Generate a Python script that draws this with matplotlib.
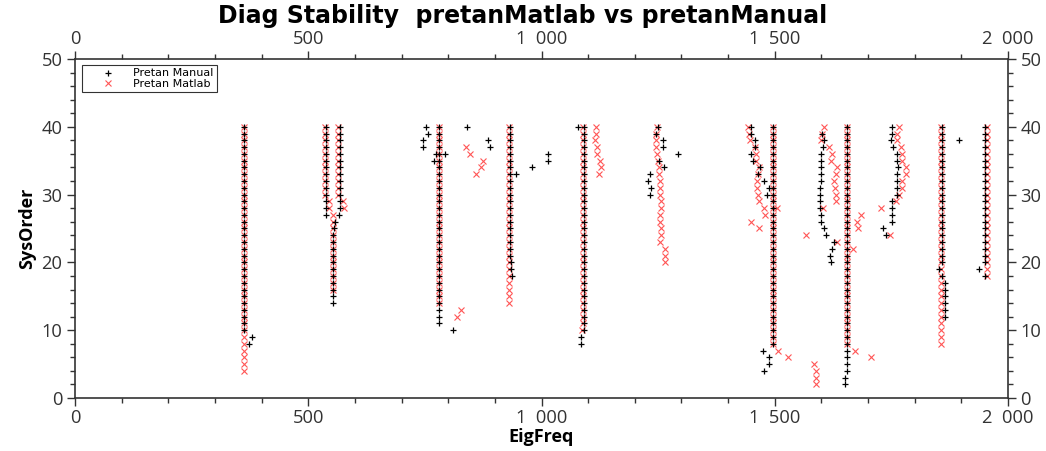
import matplotlib
matplotlib.use("Agg")
import matplotlib.pyplot as plt
from matplotlib.ticker import MultipleLocator, FuncFormatter

plt.rcParams['font.family'] = ['Open Sans', 'DejaVu Sans']

# ---------------- data ----------------
# vertical stable runs: (frequency, lowest order, highest order)
manual_runs = [(362, 10, 40), (539, 27, 40), (567, 30, 40), (553, 14, 24),
               (781, 11, 40), (932, 21, 40), (1091, 10, 40), (1497, 8, 40),
               (1654, 4, 40), (1858, 20, 40), (1951, 20, 40)]
matlab_runs = [(362, 4, 40), (535, 30, 40), (564, 30, 40), (553, 16, 24),
               (781, 14, 40), (931, 14, 40), (1090, 11, 40), (1496, 8, 40),
               (1654, 8, 40), (1857, 8, 40), (1954, 18, 40)]

# isolated poles
manual_f = [379, 372,
            569, 569, 566, 558, 556,
            840, 752, 756, 747, 885, 747, 890, 793, 774, 770, 810,
            935, 935, 937, 979, 945, 1014, 1014,
            1079, 1085, 1085,
            1249, 1245, 1261, 1261, 1293, 1252, 1262, 1233, 1228, 1235, 1233,
            1449, 1450, 1457, 1457, 1450, 1454, 1468, 1465, 1478, 1488, 1483,
            1474, 1487, 1487, 1478,
            1602, 1606, 1604, 1599, 1599, 1599, 1599, 1599, 1598, 1598, 1596, 1596,
            1599, 1599, 1606, 1609, 1626, 1623, 1618, 1620, 1650, 1650,
            1752, 1752, 1749, 1754, 1761, 1761, 1765, 1761, 1761, 1763, 1761, 1752,
            1752, 1752, 1751, 1731, 1738,
            1853, 1858, 1865, 1865, 1865, 1865, 1865, 1865, 1896,
            1937, 1950]
manual_o = [9, 8,
            29, 28, 27, 26, 25,
            40, 40, 39, 38, 38, 37, 37, 36, 36, 35, 10,
            20, 19, 18, 34, 33, 36, 35,
            40, 9, 8,
            40, 39, 38, 37, 36, 35, 34, 33, 32, 31, 30,
            40, 39, 38, 37, 36, 35, 34, 33, 32, 31, 30,
            7, 6, 5, 4,
            39, 38, 37, 36, 35, 34, 33, 32, 31, 30, 29, 28,
            27, 26, 25, 24, 23, 22, 21, 20, 3, 2,
            40, 39, 38, 37, 36, 35, 34, 33, 32, 31, 30, 29,
            28, 27, 26, 25, 24,
            19, 18, 17, 16, 15, 14, 13, 12, 38,
            19, 18]

matlab_f = [545, 545, 575, 577, 554, 552, 552,
            839, 847, 874, 870, 860, 827, 818,
            1086, 1117, 1116, 1114, 1120, 1118, 1125, 1127, 1124,
            1247, 1245, 1245, 1246, 1248, 1250, 1252, 1252, 1254, 1254, 1254, 1256,
            1257, 1255, 1255, 1257, 1256, 1253, 1265, 1265, 1265,
            1442, 1445, 1447, 1457, 1460, 1460, 1466, 1465, 1461, 1461, 1465, 1466,
            1478, 1480, 1449, 1467, 1504, 1506, 1529, 1584, 1588, 1588, 1588,
            1606, 1602, 1600, 1616, 1623, 1621, 1633, 1631, 1628, 1629, 1631, 1631,
            1603, 1566, 1633, 1684, 1676, 1679, 1668, 1672, 1706,
            1766, 1763, 1763, 1771, 1772, 1773, 1781, 1781, 1773, 1772, 1766, 1760,
            1727, 1747]
matlab_o = [29, 28, 29, 28, 27, 26, 25,
            37, 36, 35, 34, 33, 13, 12,
            10, 40, 39, 38, 37, 36, 35, 34, 33,
            40, 39, 38, 37, 36, 35, 34, 33, 32, 31, 30, 29,
            28, 27, 26, 25, 24, 23, 22, 21, 20,
            40, 39, 38, 37, 36, 35, 34, 33, 32, 31, 30, 29,
            28, 27, 26, 25, 28, 7, 6, 5, 4, 3, 2,
            40, 39, 38, 37, 36, 35, 34, 33, 32, 31, 30, 29,
            28, 24, 23, 27, 26, 25, 22, 7, 6,
            40, 39, 38, 37, 36, 35, 34, 33, 32, 31, 30, 29,
            28, 24]

title = "Diag Stability  pretanMatlab vs pretanManual"
x_label = "EigFreq"
y_label = "SysOrder"
legend_labels = ["Pretan Manual", "Pretan Matlab"]


def expand(runs, fs, os_):
    xf, yo = [], []
    for f, lo, hi in runs:
        for o in range(lo, hi + 1):
            xf.append(f)
            yo.append(o)
    return xf + list(fs), yo + list(os_)


mx, my = expand(manual_runs, manual_f, manual_o)
rx, ry = expand(matlab_runs, matlab_f, matlab_o)

# ---------------- figure ----------------
fig = plt.figure(figsize=(10.46, 4.51), dpi=100)
ax = fig.add_axes([75 / 1046, 1 - 398 / 451, 933 / 1046, 339 / 451])

ax.plot(mx, my, linestyle='none', marker='+', color='black', markersize=5,
        markeredgewidth=0.9, label=legend_labels[0], zorder=3)
ax.plot(rx, ry, linestyle='none', marker='x', color='#ff5555', markersize=4.5,
        markeredgewidth=0.8, label=legend_labels[1], zorder=2)

ax.set_xlim(0, 2000)
ax.set_ylim(0, 50)
ax.xaxis.set_major_locator(MultipleLocator(500))
ax.xaxis.set_minor_locator(MultipleLocator(100))
ax.yaxis.set_major_locator(MultipleLocator(10))
ax.yaxis.set_minor_locator(MultipleLocator(2))


def fmt(v, pos):
    return f"{int(round(v)):,}".replace(",", "  ")


ax.xaxis.set_major_formatter(FuncFormatter(fmt))
ax.tick_params(which='both', direction='out', top=True, right=True,
               labeltop=True, labelright=True, labelsize=13.2,
               labelcolor='#333333', color='#333333', width=1)
ax.tick_params(which='major', length=6, pad=3)
ax.tick_params(axis='x', which='major', pad=2)
ax.tick_params(which='minor', length=3.5)
for s in ax.spines.values():
    s.set_color('#333333')
    s.set_linewidth(1.2)

ax.set_xlabel(x_label, fontsize=13, fontweight='bold', labelpad=1)
ax.set_ylabel(y_label, fontsize=13, fontweight='bold', labelpad=4)
fig.text(0.5, 1 - 16 / 451, title, ha='center', va='center',
         fontsize=17, fontweight='bold', family=['DejaVu Sans'])

leg = ax.legend(loc='upper left', bbox_to_anchor=(0.0075, 0.982),
                borderaxespad=0, frameon=True, fancybox=False,
                prop={'family': 'DejaVu Sans', 'size': 8},
                edgecolor='black', handletextpad=0.3, borderpad=0.3,
                labelspacing=0.05, handlelength=4.0)
leg.get_frame().set_linewidth(0.8)

fig.savefig("out.png", dpi=100)
